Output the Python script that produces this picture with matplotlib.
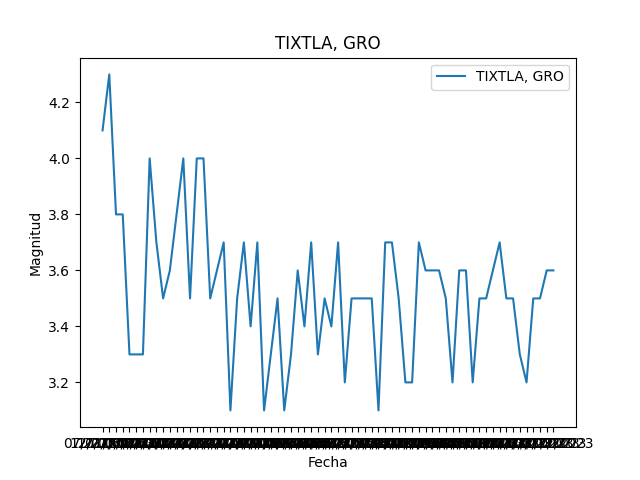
import pandas as pd
import matplotlib.pyplot as plt

titulo = 'TIXTLA, GRO'

magnitud = [4.1, 4.3, 3.8, 3.8, 3.3, 3.3, 3.3, 4.0, 3.7, 3.5, 3.6, 3.8, 4.0, 3.5,
            4.0, 4.0, 3.5, 3.6, 3.7, 3.1, 3.5, 3.7, 3.4, 3.7, 3.1, 3.3, 3.5, 3.1,
            3.3, 3.6, 3.4, 3.7, 3.3, 3.5, 3.4, 3.7, 3.2, 3.5, 3.5, 3.5, 3.5, 3.1,
            3.7, 3.7, 3.5, 3.2, 3.2, 3.7, 3.6, 3.6, 3.6, 3.5, 3.2, 3.6, 3.6, 3.2,
            3.5, 3.5, 3.6, 3.7, 3.5, 3.5, 3.3, 3.2, 3.5, 3.5, 3.6, 3.6]

# fechas como texto (eje categórico)
fechas = [d.strftime('%d/%m/%Y') for d in pd.date_range('2023-01-07', periods=len(magnitud), freq='5D')]

plt.figure(figsize=(6.4, 4.8))
plt.plot(fechas, magnitud, label=titulo)
plt.title(titulo)
plt.xlabel('Fecha')
plt.ylabel('Magnitud')
plt.legend()
plt.savefig('out.png', dpi=100)
